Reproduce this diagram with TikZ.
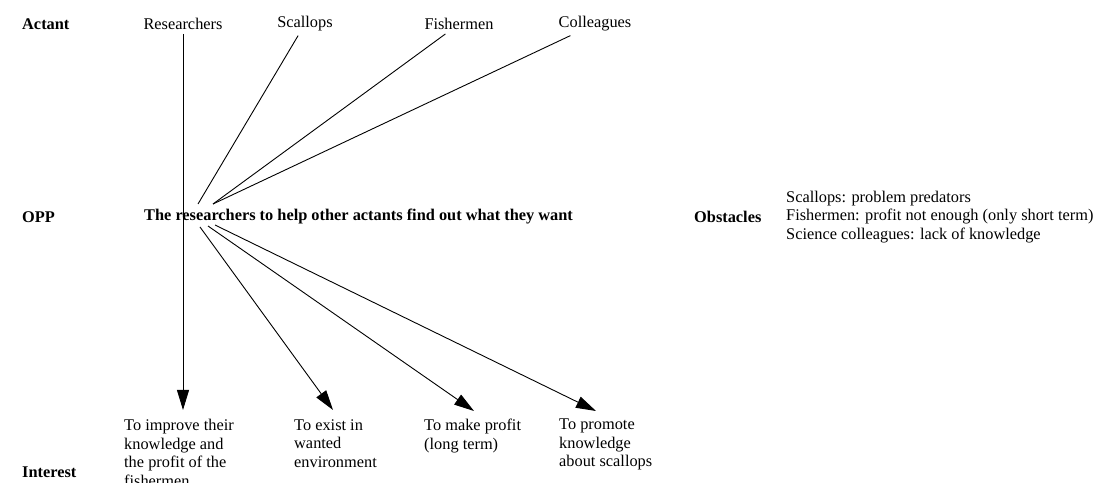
\documentclass[tikz,border=0pt]{standalone}
\usepackage{fontspec}
\setmainfont{Liberation Serif}
\usetikzlibrary{arrows.meta}

\begin{document}
\begin{tikzpicture}[x=1bp,y=-1bp,
  txt/.style={font=\fontsize{16.4}{18.6}\selectfont, inner sep=0pt},
  head/.style={txt, font=\fontsize{16.4}{18.6}\selectfont\bfseries, anchor=west},
  actant/.style={txt, inner sep=4bp},
  interest/.style={txt, align=left, anchor=north west},
  link/.style={line width=0.9bp},
  arr/.style={link, -{Triangle[length=20bp,width=12bp]}}
]
\useasboundingbox (0,0) rectangle (1098,483);
\clip (0,0) rectangle (1098,483);

% row headings
\node[head] (hActant) at (22,24) {Actant};
\node[head] (hOpp) at (22,217) {OPP};
\node[head] (hObst) at (694,217) {Obstacles};
\node[head] (hInt) at (22,472) {Interest};

% actants
\node[actant] (res) at (183,24) {Researchers};
\node[actant] (sca) at (305,24) {Scallops};
\node[actant] (fis) at (459,24) {Fishermen};
\node[actant] (col) at (595,24) {Colleagues};

% obligatory passage point
\node[head] (opp) at (144,217) {The researchers to help other actants find out what they want};

% obstacles
\node[txt, align=left, anchor=west] (obst) at (786,217)
  {Scallops: problem predators\\
   Fishermen: profit not enough (only short term)\\
   Science colleagues: lack of knowledge};

% interests
\node[interest] (i1) at (124,419) {To improve their\\knowledge and\\the profit of the\\fishermen};
\node[interest] (i2) at (294,419) {To exist in\\wanted\\environment};
\node[interest] (i3) at (424,419) {To make profit\\(long term)};
\node[interest] (i4) at (559,419) {To promote\\knowledge\\about scallops};

% meeting points just above and below the passage point
\coordinate (inA) at (198,204);
\coordinate (inB) at (213,204);
\coordinate (outA) at (200,227);
\coordinate (outB) at (208,226);
\coordinate (outC) at (215,225);

% arrow tips above the interests
\coordinate (t1) at (183,410);
\coordinate (t2) at (333,410);
\coordinate (t3) at (474,411);
\coordinate (t4) at (596,411);

% connectors from the actants
\draw[arr] (res) -- (t1);
\draw[link] (sca) -- (inA);
\draw[link] (fis) -- (inB);
\draw[link] (col) -- (inB);

% connectors to the interests
\draw[arr] (outA) -- (t2);
\draw[arr] (outB) -- (t3);
\draw[arr] (outC) -- (t4);
\end{tikzpicture}
\end{document}
